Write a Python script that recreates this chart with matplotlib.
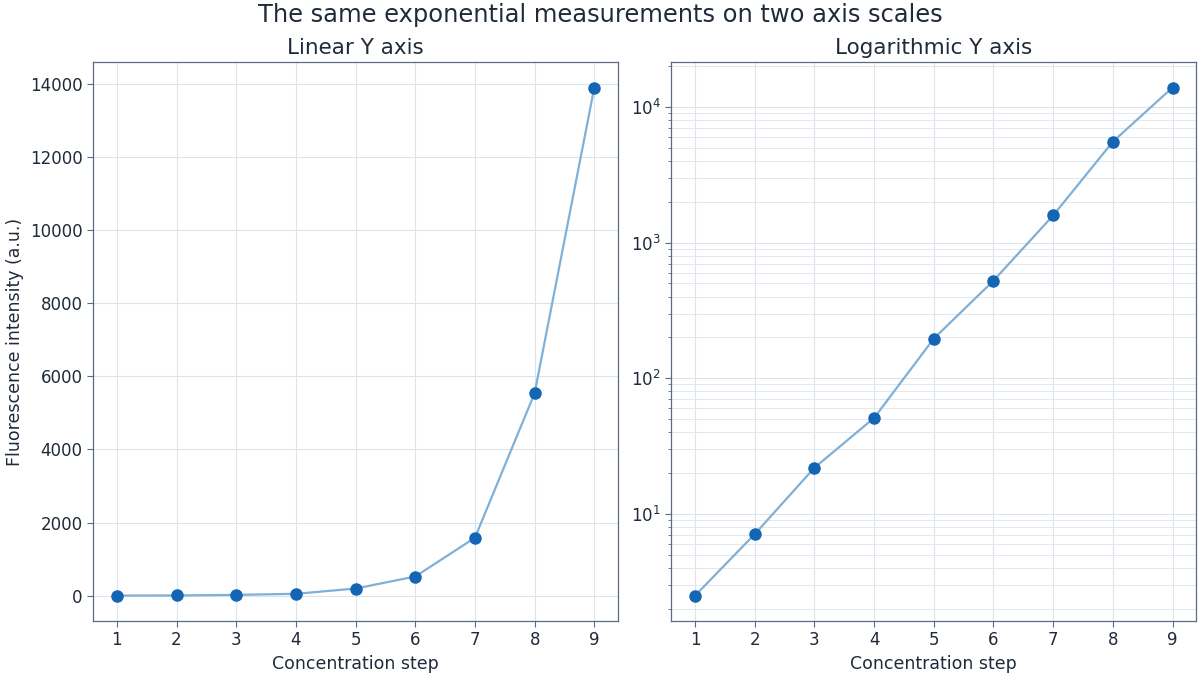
import matplotlib
matplotlib.use("Agg")
import matplotlib.pyplot as plt
from matplotlib.ticker import LogLocator, NullFormatter

steps = [1, 2, 3, 4, 5, 6, 7, 8, 9]
intensity = [2.5, 7.1, 21.9, 51, 196, 524, 1585, 5540, 13900]

text_c = "#1f2a3a"
spine_c = "#5b6b85"
grid_c = "#dde4ee"
marker_c = "#1565b5"
line_c = "#7fb0d8"

plt.rcParams["font.family"] = ["DejaVu Sans"]

fig, axes = plt.subplots(1, 2, figsize=(12, 6.75), dpi=100)
fig.subplots_adjust(left=0.0775, right=0.997, bottom=0.08, top=0.908, wspace=0.101)

for ax, scale, title in zip(axes, ["linear", "log"], ["Linear Y axis", "Logarithmic Y axis"]):
    ax.plot(steps, intensity, color=line_c, lw=1.6, zorder=2)
    ax.plot(steps, intensity, 'o', color=marker_c, ms=8, zorder=3)
    ax.set_yscale(scale)
    ax.set_title(title, fontsize=15.5, color=text_c, pad=6)
    ax.set_xlabel("Concentration step", fontsize=12.5, color=text_c)
    ax.set_xticks(steps)
    ax.tick_params(axis="both", labelsize=12, colors=text_c, direction="out", length=4)
    ax.tick_params(axis="both", color=spine_c)
    for s in ax.spines.values():
        s.set_color(spine_c)
        s.set_linewidth(0.9)
    ax.set_axisbelow(True)
    ax.grid(True, which="major", color=grid_c, lw=0.8)
    if scale == "log":
        ax.yaxis.set_minor_locator(LogLocator(base=10, subs=range(2, 10)))
        ax.yaxis.set_minor_formatter(NullFormatter())
        ax.grid(True, which="minor", axis="y", color=grid_c, lw=0.6)
        ax.tick_params(axis="y", which="minor", length=2.5, color=spine_c)

axes[0].set_ylabel("Fluorescence intensity (a.u.)", fontsize=12.5, color=text_c)
fig.suptitle("The same exponential measurements on two axis scales", fontsize=17.4, color=text_c, y=0.995)

fig.savefig("out.png", dpi=100)
